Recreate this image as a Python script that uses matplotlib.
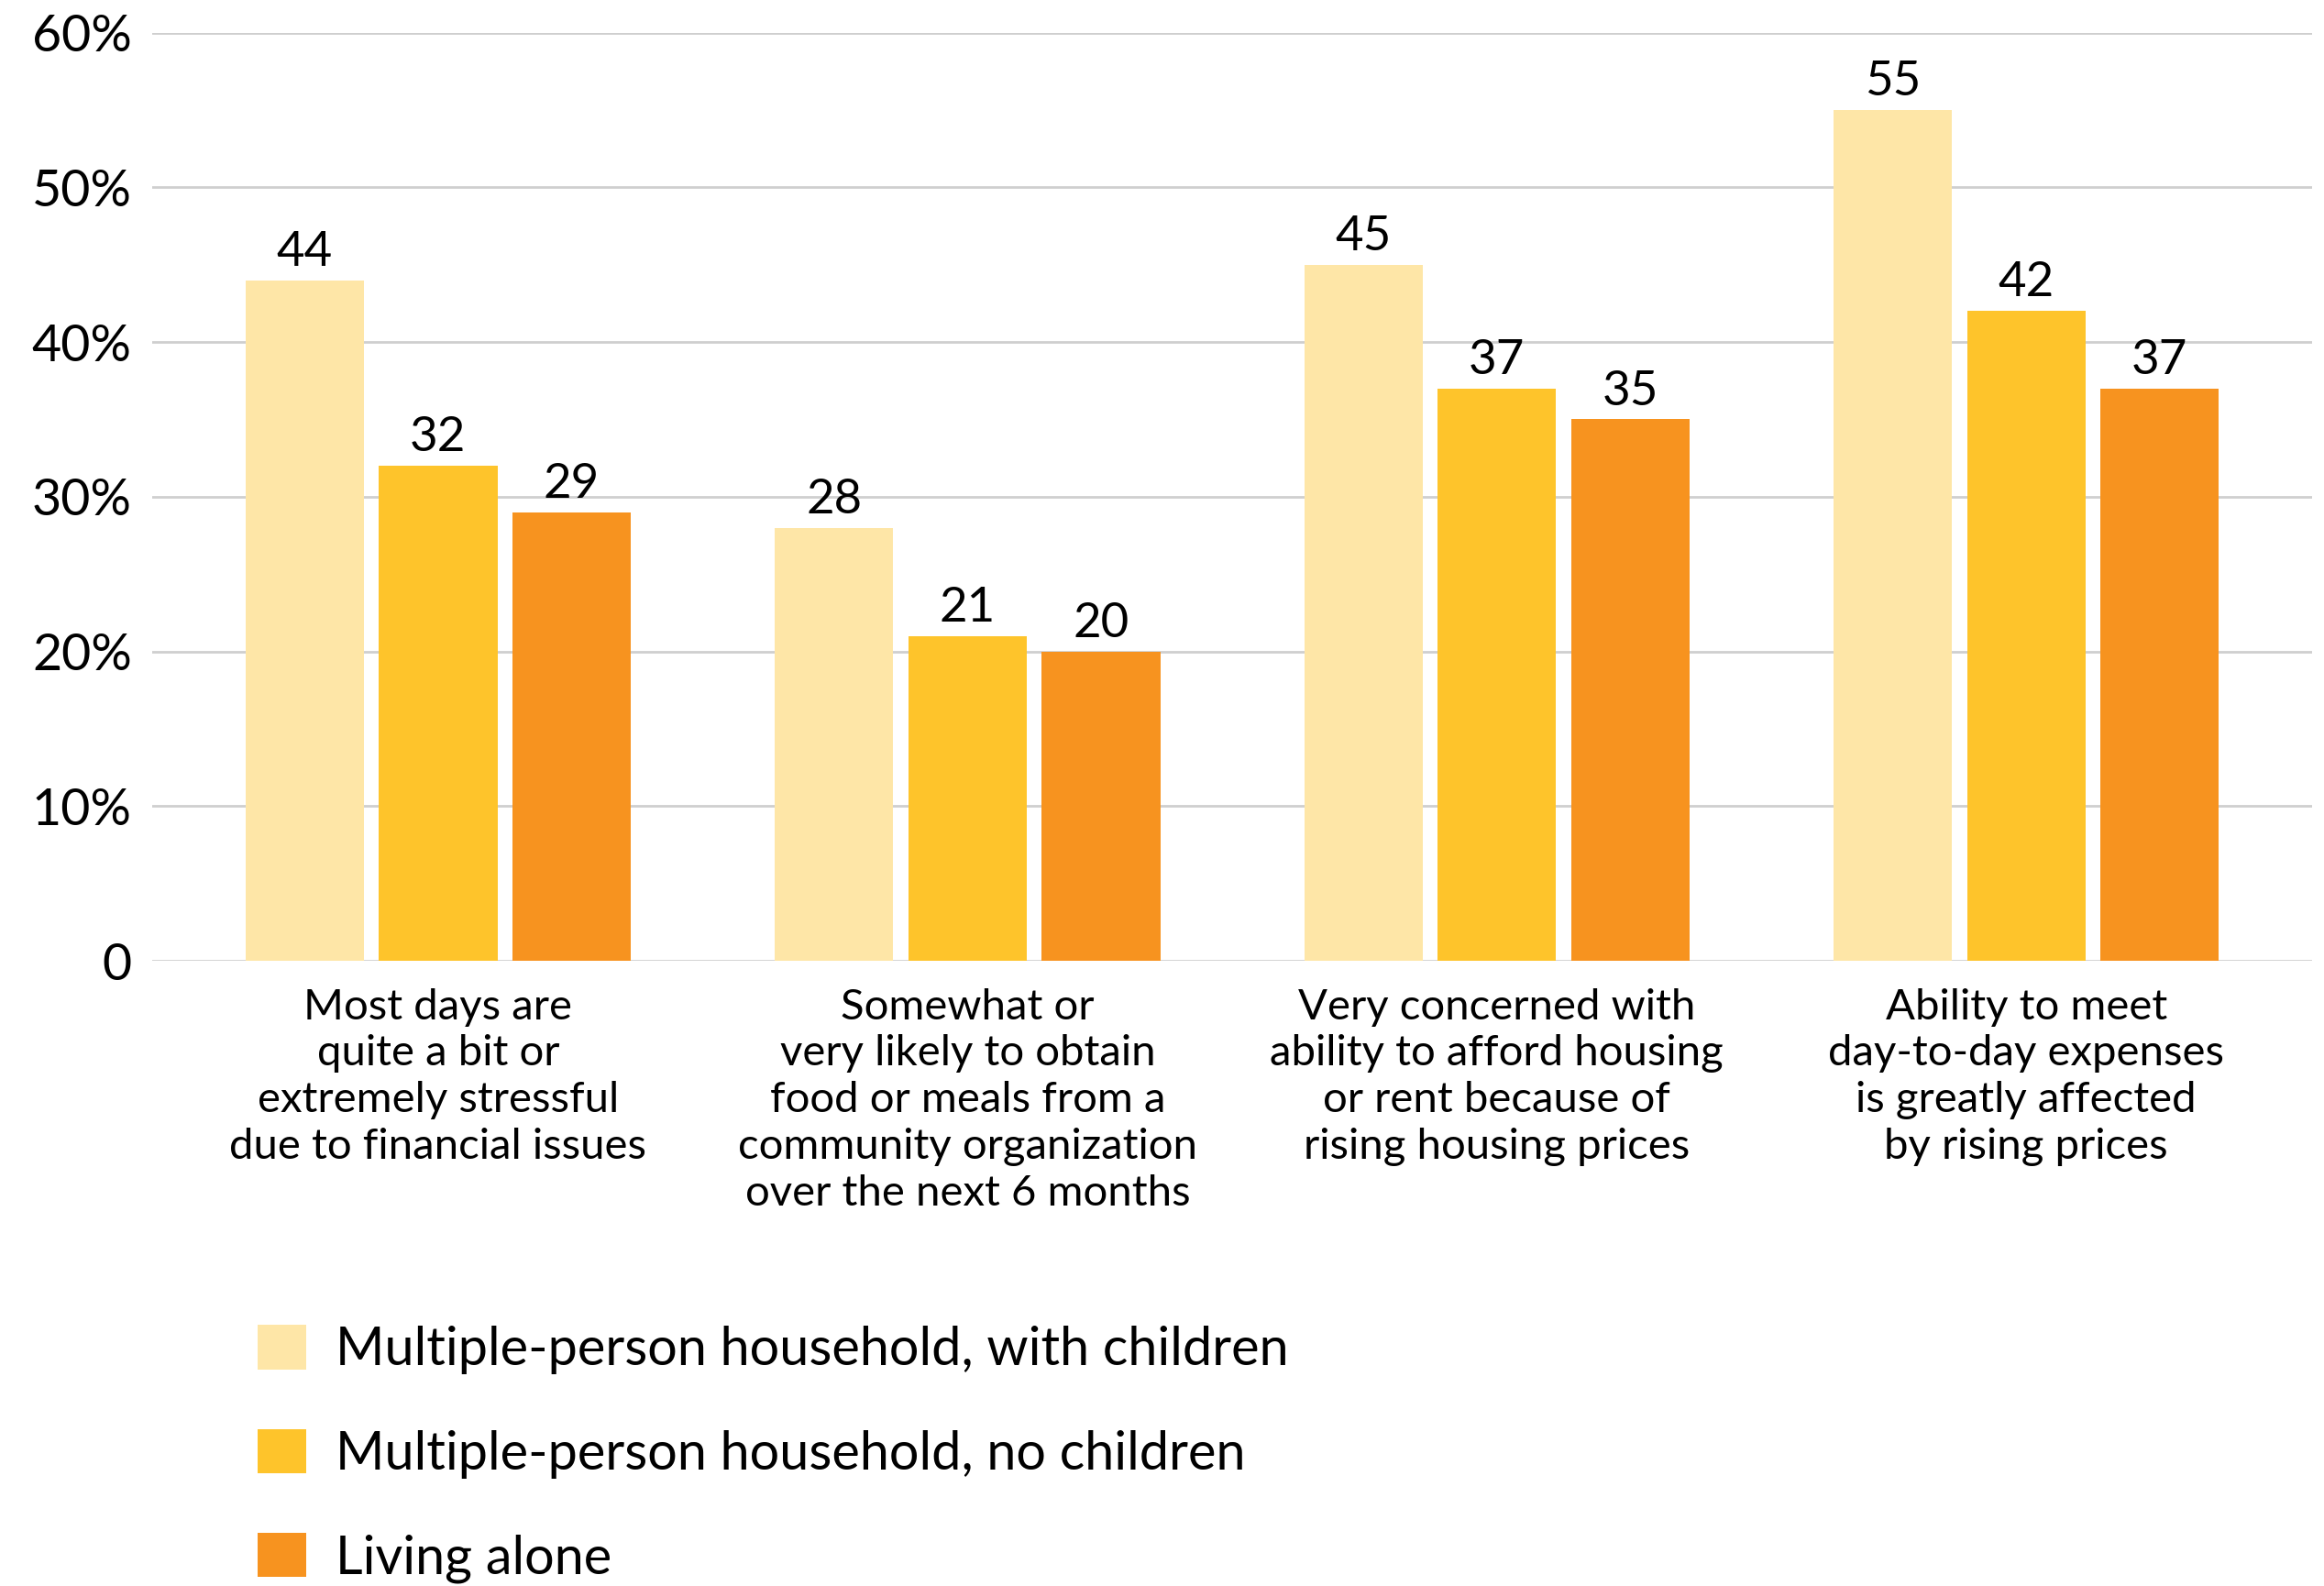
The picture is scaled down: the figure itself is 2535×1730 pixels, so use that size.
import matplotlib
matplotlib.use("Agg")
import matplotlib.pyplot as plt
import numpy as np

categories = [
    "Most days are\nquite a bit or\nextremely stressful\ndue to financial issues",
    "Somewhat or\nvery likely to obtain\nfood or meals from a\ncommunity organization\nover the next 6 months",
    "Very concerned with\nability to afford housing\nor rent because of\nrising housing prices",
    "Ability to meet\nday-to-day expenses\nis greatly affected\nby rising prices",
]
series_names = [
    "Multiple-person household, with children",
    "Multiple-person household, no children",
    "Living alone",
]
with_children = [44, 28, 45, 55]
no_children = [32, 21, 37, 42]
living_alone = [29, 20, 35, 37]
yticks = [0, 10, 20, 30, 40, 50, 60]
ytick_labels = ["0", "10%", "20%", "30%", "40%", "50%", "60%"]

colors = ["#FEE6A7", "#FEC42B", "#F7931F"]

plt.rcParams['font.family'] = ['Lato', 'DejaVu Sans']

fig = plt.figure(figsize=(25.35, 17.30), dpi=100)
ax = fig.add_axes([0.0655, 0.3942, 0.9294, 0.5852])

x = np.arange(len(categories))
width = 0.224
step = 0.252
handles = []
for i, (vals, col, name) in enumerate(zip([with_children, no_children, living_alone], colors, series_names)):
    bars = ax.bar(x + (i - 1) * step, vals, width=width, color=col, label=name, zorder=3)
    handles.append(bars)
    for b, v in zip(bars, vals):
        ax.annotate(str(v), (b.get_x() + b.get_width() / 2, v), xytext=(0, 5),
                    textcoords="offset points", ha="center", va="bottom",
                    fontsize=38, color="black")

ax.set_xlim(-0.54, 3.54)
ax.set_ylim(0, 60)
ax.set_yticks(yticks, ytick_labels, fontsize=40, va="center_baseline")
ax.tick_params(axis="y", length=0, pad=16)
ax.set_xticks([])
ax.yaxis.grid(True, color="#cfcfcf", linewidth=2, zorder=0)
for s in ax.spines.values():
    s.set_visible(False)

# category captions under each group
for xi, lab in zip(x, categories):
    ax.text(xi, -1.75, lab, ha="center", va="top", fontsize=34, linespacing=1.26,
            transform=ax.transData)

fig.legend(handles=handles, labels=series_names, loc="upper left",
           bbox_to_anchor=(0.111, 0.1645), frameon=False, fontsize=41.5,
           handlelength=0.91, handleheight=0.91, handletextpad=0.56,
           labelspacing=1.03, borderpad=0, borderaxespad=0)

fig.savefig("out.png", dpi=100)
